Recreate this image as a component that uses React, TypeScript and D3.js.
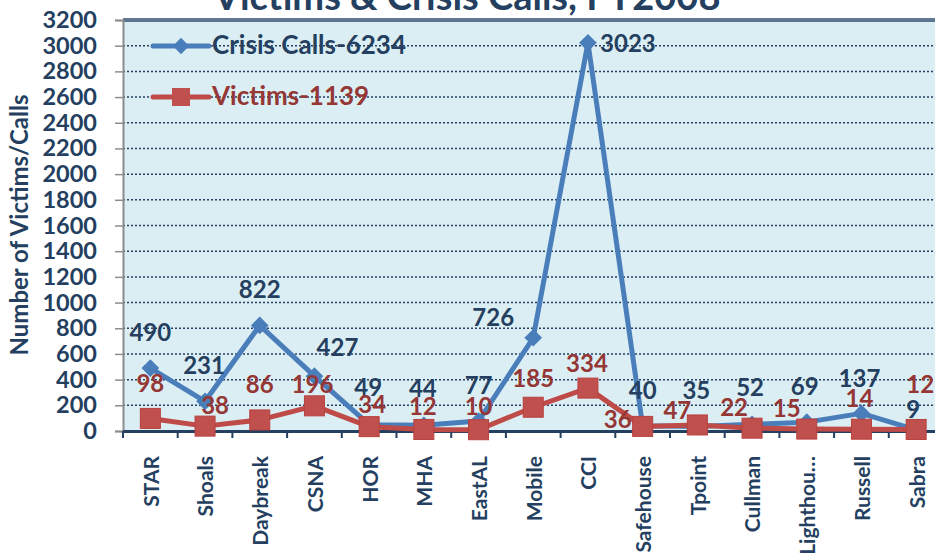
import React, { useEffect, useRef } from 'react';
import * as d3 from 'd3';

const categories = ['STAR', 'Shoals', 'Daybreak', 'CSNA', 'HOR', 'MHA', 'EastAL', 'Mobile', 'CCI', 'Safehouse', 'Tpoint', 'Cullman', 'Lighthou…', 'Russell', 'Sabra'];
const crisisCalls = [490, 231, 822, 427, 49, 44, 77, 726, 3023, 40, 35, 52, 69, 137, 9];
const victims = [98, 38, 86, 196, 34, 12, 10, 185, 334, 36, 47, 22, 15, 14, 12];
const yTicks = [0, 200, 400, 600, 800, 1000, 1200, 1400, 1600, 1800, 2000, 2200, 2400, 2600, 2800, 3000, 3200];
const seriesNames = ['Crisis Calls-6234', 'Victims-1139'];

// label nudges (px) relative to the marker, like the moved labels in the original
const callsLabelDx = [0, -1, 0, 23, -1, -1, 0, -40, 40, 0, -1, -2, -2, -2, -3];
const callsLabelDy = [-36, -36, -36, -29, -37, -37, -36, -20, 1, -36, -36, -37, -36, -35, -20];
const victimsLabelDx = [0, 10, 0, -2, 3, -1, 0, 0, -1, -25, -20, -18, -20, -2, 4];
const victimsLabelDy = [-35, -21, -36, -21, -22, -23, -23, -29, -25, -7, -15, -21, -21, -31, -45];

const svgWidth = 935;
const svgHeight = 554;
const font = 'Lato, "Open Sans", sans-serif';
const navy = '#243F60';
const blue = '#4A7EBB';
const red = '#BE4B48';
const darkRed = '#953735';

const App: React.FC = () => {
  const svgRef = useRef<SVGSVGElement | null>(null);

  useEffect(() => {
    const left = 123;
    const top = 20;
    const bottom = 431;
    const step = 54.7;

    const svg = d3.select(svgRef.current);
    svg.selectAll('*').remove();

    const x = d3
      .scaleBand()
      .domain(categories)
      .range([left, left + step * categories.length]);
    const y = d3.scaleLinear().domain([0, 3200]).range([bottom, top]);
    const cx = (c: string) => (x(c) as number) + x.bandwidth() / 2;

    // plot background
    svg
      .append('rect')
      .attr('x', left)
      .attr('y', top)
      .attr('width', x.range()[1] - left)
      .attr('height', bottom - top)
      .attr('fill', '#DBEEF4');

    // dotted gridlines
    svg
      .append('g')
      .selectAll('line')
      .data(yTicks.filter((t) => t > 0 && t < 3200))
      .join('line')
      .attr('x1', left)
      .attr('x2', x.range()[1])
      .attr('y1', (d) => y(d))
      .attr('y2', (d) => y(d))
      .attr('stroke', navy)
      .attr('stroke-width', 1.5)
      .attr('stroke-dasharray', '2,2');

    // top double border
    [top - 1, top + 1].forEach((yy) => {
      svg
        .append('line')
        .attr('x1', left)
        .attr('x2', x.range()[1])
        .attr('y1', yy)
        .attr('y2', yy)
        .attr('stroke', '#2E4A6E')
        .attr('stroke-width', 1.3);
    });

    // title (cut off by the top edge, as in the original)
    svg
      .append('text')
      .attr('x', 467)
      .attr('y', 10)
      .attr('text-anchor', 'middle')
      .attr('font-family', font)
      .attr('font-weight', 'bold')
      .attr('font-size', 38)
      .attr('fill', navy)
      .text('Victims & Crisis Calls, FY2008');

    // y axis
    const yAxis = svg
      .append('g')
      .attr('transform', `translate(${left},0)`)
      .call(d3.axisLeft(y).tickValues(yTicks).tickSize(8).tickPadding(18).tickFormat(d3.format('d')));
    yAxis.select('.domain').attr('stroke', '#8C8C8C').attr('stroke-width', 2);
    yAxis.selectAll('.tick line').attr('stroke', '#8C8C8C').attr('stroke-width', 1.5);
    yAxis
      .selectAll('.tick text')
      .attr('font-family', font)
      .attr('font-weight', 'bold')
      .attr('font-size', 23.5)
      .attr('fill', navy);

    // x axis
    const xAxis = svg
      .append('g')
      .attr('transform', `translate(0,${bottom})`)
      .call(d3.axisBottom(x).tickSize(0).tickSizeOuter(0).tickPadding(0));
    xAxis.select('.domain').attr('stroke', navy).attr('stroke-width', 3);
    xAxis
      .selectAll('.tick text')
      .attr('font-family', font)
      .attr('font-weight', 'bold')
      .attr('font-size', 21)
      .attr('fill', navy)
      .attr('text-anchor', 'end')
      .attr('transform', 'rotate(-90)')
      .attr('x', -25)
      .attr('y', 1)
      .attr('dy', '0.35em');
    // tick marks at category boundaries
    svg
      .append('g')
      .selectAll('line')
      .data(d3.range(categories.length + 1))
      .join('line')
      .attr('x1', (i) => left + i * x.step())
      .attr('x2', (i) => left + i * x.step())
      .attr('y1', bottom)
      .attr('y2', bottom + 7)
      .attr('stroke', navy)
      .attr('stroke-width', 2);

    const line = d3
      .line<number>()
      .x((_, i) => cx(categories[i]))
      .y((d) => y(d));

    // crisis calls series
    svg
      .append('path')
      .datum(crisisCalls)
      .attr('d', line)
      .attr('fill', 'none')
      .attr('stroke', blue)
      .attr('stroke-width', 5)
      .attr('stroke-linejoin', 'round');
    const diamond = d3.symbol().type(d3.symbolDiamond2).size(200);
    svg
      .append('g')
      .selectAll('path')
      .data(crisisCalls)
      .join('path')
      .attr('d', diamond)
      .attr('transform', (d, i) => `translate(${cx(categories[i])},${y(d)})`)
      .attr('fill', blue);

    // victims series
    svg
      .append('path')
      .datum(victims)
      .attr('d', line)
      .attr('fill', 'none')
      .attr('stroke', red)
      .attr('stroke-width', 5)
      .attr('stroke-linejoin', 'round');
    svg
      .append('g')
      .selectAll('rect')
      .data(victims)
      .join('rect')
      .attr('x', (d, i) => cx(categories[i]) - 10)
      .attr('y', (d) => y(d) - 10)
      .attr('width', 20)
      .attr('height', 20)
      .attr('fill', '#C0504D')
      .attr('stroke', '#B9403D')
      .attr('stroke-width', 1);

    // data labels
    const labels = (vals: number[], dx: number[], dy: number[], color: string) =>
      svg
        .append('g')
        .selectAll('text')
        .data(vals)
        .join('text')
        .attr('x', (d, i) => cx(categories[i]) + dx[i])
        .attr('y', (d, i) => y(d) + dy[i])
        .attr('dy', '0.36em')
        .attr('text-anchor', 'middle')
        .attr('font-family', font)
        .attr('font-weight', 'bold')
        .attr('font-size', 24)
        .attr('fill', color)
        .text((d) => d);
    labels(crisisCalls, callsLabelDx, callsLabelDy, navy);
    labels(victims, victimsLabelDx, victimsLabelDy, darkRed);

    // legend
    const legend = svg.append('g');
    [
      { name: seriesNames[0], yy: 46, color: blue, text: navy, mark: 'diamond' },
      { name: seriesNames[1], yy: 97, color: red, text: darkRed, mark: 'square' },
    ].forEach((s) => {
      legend
        .append('line')
        .attr('x1', 153)
        .attr('x2', 209)
        .attr('y1', s.yy)
        .attr('y2', s.yy)
        .attr('stroke', s.color)
        .attr('stroke-width', 5)
        .attr('stroke-linecap', 'round');
      if (s.mark === 'diamond') {
        legend
          .append('path')
          .attr('d', d3.symbol().type(d3.symbolDiamond2).size(170)())
          .attr('transform', `translate(181,${s.yy})`)
          .attr('fill', s.color);
      } else {
        legend
          .append('rect')
          .attr('x', 172)
          .attr('y', s.yy - 9)
          .attr('width', 18)
          .attr('height', 18)
          .attr('fill', '#C0504D');
      }
      legend
        .append('text')
        .attr('x', 212)
        .attr('y', s.yy + 8)
        .attr('font-family', font)
        .attr('font-weight', 'bold')
        .attr('font-size', 26)
        .attr('fill', s.text)
        .text(s.name);
    });

    // y axis title
    svg
      .append('text')
      .attr('transform', 'rotate(-90)')
      .attr('x', -225)
      .attr('y', 20)
      .attr('dy', '0.35em')
      .attr('text-anchor', 'middle')
      .attr('font-family', font)
      .attr('font-weight', 'bold')
      .attr('font-size', 24)
      .attr('fill', navy)
      .text('Number of Victims/Calls');
  }, []);

  return (
    <svg
      ref={svgRef}
      width={svgWidth}
      height={svgHeight}
      style={{ position: 'absolute', left: 0, top: 0, background: '#fff' }}
    ></svg>
  );
};

export default App;
